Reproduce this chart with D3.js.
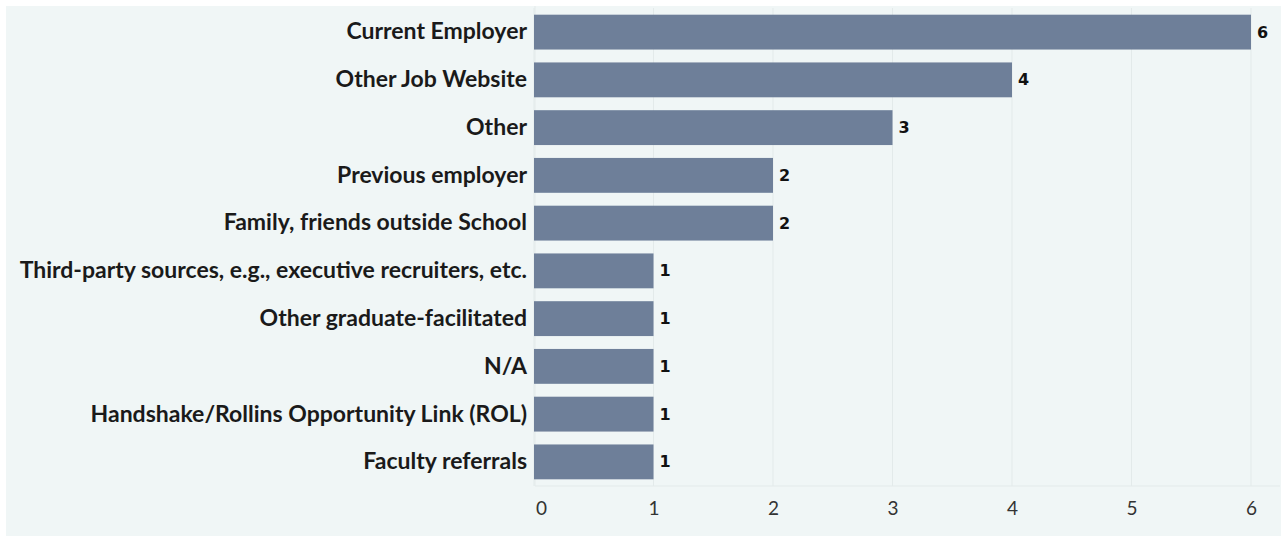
<!DOCTYPE html>
<html>
<head>
<meta charset="utf-8">
<script src="https://cdn.jsdelivr.net/npm/d3@7"></script>
<style>
  body { margin: 0; background: #ffffff; }
  svg { display: block; }
</style>
</head>
<body>
<div id="chart"></div>
<script>
var categories = [
    "Current Employer",
    "Other Job Website",
    "Other",
    "Previous employer",
    "Family, friends outside School",
    "Third-party sources, e.g., executive recruiters, etc.",
    "Other graduate-facilitated",
    "N/A",
    "Handshake/Rollins Opportunity Link (ROL)",
    "Faculty referrals"
];
var counts = [6, 4, 3, 2, 2, 1, 1, 1, 1, 1];
var tickValues = [0, 1, 2, 3, 4, 5, 6];

var W = 1286, H = 539;
var margin = { top: 8, right: 34, bottom: 53, left: 535 };
var width = W - margin.left - margin.right,
    height = H - margin.top - margin.bottom;

var svg = d3.select('#chart')
    .append('svg')
    .attr('width', W)
    .attr('height', H);

svg.append('rect')
    .attr('x', 6).attr('y', 6)
    .attr('width', W - 11).attr('height', H - 9)
    .attr('fill', '#f0f6f6');

var graph = svg.append('g')
    .attr('transform', 'translate(' + margin.left + ', ' + margin.top + ')');

var xS = d3.scaleLinear()
    .domain([0, 6])
    .range([-1, 716]);
var yS = d3.scaleBand()
    .domain(categories)
    .range([0, height])
    .paddingInner(0.27)
    .paddingOuter(0.14);

// gridlines
graph.selectAll('line.grid')
    .data(tickValues)
    .enter()
    .append('line')
    .attr('class', 'grid')
    .attr('x1', function(d) { return xS(d); })
    .attr('x2', function(d) { return xS(d); })
    .attr('y1', 0)
    .attr('y2', height)
    .attr('stroke', '#e3eaea')
    .attr('stroke-width', 1);

graph.append('line')
    .attr('x1', 0).attr('x2', W - margin.left - 6)
    .attr('y1', height).attr('y2', height)
    .attr('stroke', '#e3eaea');
graph.append('line')
    .attr('x1', 0).attr('x2', 0)
    .attr('y1', -2).attr('y2', height)
    .attr('stroke', '#e3eaea');

graph.selectAll('rect.bar')
    .data(counts)
    .enter()
    .append('rect')
    .attr('class', 'bar')
    .attr('fill', '#6e7f99')
    .attr('x', xS(0))
    .attr('y', function(d, i) { return yS(categories[i]); })
    .attr('width', function(d) { return xS(d) - xS(0); })
    .attr('height', yS.bandwidth());

graph.selectAll('text.val')
    .data(counts)
    .enter()
    .append('text')
    .attr('class', 'val')
    .attr('x', function(d) { return xS(d) + 6; })
    .attr('y', function(d, i) { return yS(categories[i]) + yS.bandwidth() / 2; })
    .attr('dy', '0.35em')
    .style('font-family', 'DejaVu Sans, sans-serif')
    .style('font-weight', 'bold')
    .style('font-size', '16px')
    .style('fill', '#111')
    .text(function(d) { return d; });

// category labels
var yAxis = graph.append('g')
    .call(d3.axisLeft(yS).tickSize(0).tickPadding(8));
yAxis.select('.domain').remove();
yAxis.selectAll('text')
    .style('font-family', 'Lato, sans-serif')
    .style('font-weight', 'bold')
    .style('font-size', '23px')
    .style('fill', '#1a1a1a');

var xAxis = graph.append('g')
    .attr('transform', 'translate(0, ' + height + ')')
    .call(d3.axisBottom(xS).tickValues(tickValues).tickFormat(d3.format('d'))
        .tickSize(0).tickPadding(16));
xAxis.select('.domain').remove();
xAxis.selectAll('text')
    .attr('dx', function(d) { return d === 0 ? 7 : 0; })
    .style('font-family', 'Lato, sans-serif')
    .style('font-size', '19px')
    .style('fill', '#333');
</script>
</body>
</html>
